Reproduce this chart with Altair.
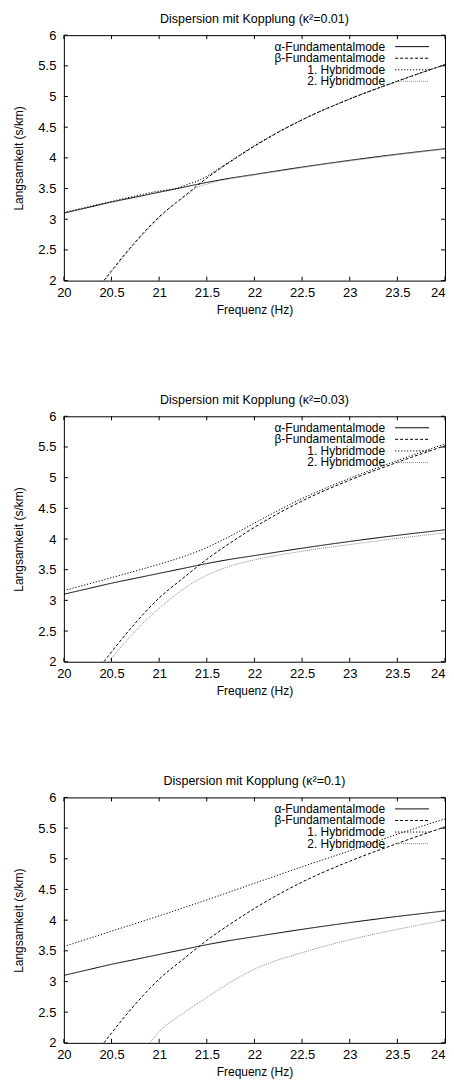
import altair as alt
import pandas as pd

FONT = "Liberation Sans"

# ---- data ----
MODES = ["α-Fundamentalmode", "β-Fundamentalmode", "1. Hybridmode", "2. Hybridmode"]
COLORS = ["#000000", "#000000", "#000000", "#8c8c8c"]
DASHES = [[1, 0], [3, 2], [1.2, 1.8], [1, 1]]

TITLES = [
    "Dispersion mit Kopplung (κ²=0.01)",
    "Dispersion mit Kopplung (κ²=0.03)",
    "Dispersion mit Kopplung (κ²=0.1)",
]

FREQ_ALPHA = [20.0, 20.25, 20.5, 20.75, 21.0, 21.25, 21.5, 21.75, 22.0, 22.5, 23.0, 23.5, 24.0]
SLOW_ALPHA = [3.10, 3.19, 3.28, 3.36, 3.44, 3.52, 3.60, 3.67, 3.73, 3.85, 3.96, 4.06, 4.15]

FREQ_BETA = [20.42, 20.5, 20.75, 21.0, 21.25, 21.5, 21.75, 22.0, 22.5, 23.0, 23.5, 24.0]
SLOW_BETA = [2.00, 2.16, 2.63, 3.04, 3.36, 3.67, 3.94, 4.19, 4.62, 4.96, 5.25, 5.52]

# kappa^2 = 0.01
FREQ_H1_A = [20.0, 20.5, 21.0, 21.2, 21.3, 21.4, 21.5, 21.6, 21.75, 22.0, 22.5, 23.0, 23.5, 24.0]
SLOW_H1_A = [3.11, 3.29, 3.46, 3.51, 3.57, 3.62, 3.70, 3.80, 3.95, 4.20, 4.62, 4.96, 5.25, 5.52]
FREQ_H2_A = [20.43, 20.5, 20.75, 21.0, 21.2, 21.3, 21.4, 21.5, 21.6, 21.75, 22.0, 22.5, 23.0, 23.5, 24.0]
SLOW_H2_A = [2.00, 2.14, 2.61, 3.02, 3.29, 3.40, 3.52, 3.57, 3.615, 3.66, 3.72, 3.84, 3.95, 4.05, 4.14]

# kappa^2 = 0.03
FREQ_H1_B = [20.0, 20.5, 21.0, 21.25, 21.5, 21.75, 22.0, 22.5, 23.0, 23.5, 24.0]
SLOW_H1_B = [3.16, 3.37, 3.59, 3.71, 3.86, 4.05, 4.26, 4.66, 4.99, 5.28, 5.55]
FREQ_H2_B = [20.47, 20.75, 21.0, 21.25, 21.5, 21.75, 22.0, 22.5, 23.0, 23.5, 24.0]
SLOW_H2_B = [2.00, 2.50, 2.87, 3.18, 3.41, 3.56, 3.66, 3.80, 3.91, 4.01, 4.10]

# kappa^2 = 0.1
FREQ_H1_C = [20.0, 20.5, 21.0, 21.5, 22.0, 22.5, 23.0, 23.5, 24.0]
SLOW_H1_C = [3.57, 3.82, 4.07, 4.33, 4.60, 4.87, 5.13, 5.40, 5.65]
FREQ_H2_C = [20.9, 21.0, 21.25, 21.5, 21.75, 22.0, 22.5, 23.0, 23.5, 24.0]
SLOW_H2_C = [2.00, 2.18, 2.48, 2.74, 2.99, 3.20, 3.47, 3.68, 3.85, 4.00]

HYBRIDS = [
    (FREQ_H1_A, SLOW_H1_A, FREQ_H2_A, SLOW_H2_A),
    (FREQ_H1_B, SLOW_H1_B, FREQ_H2_B, SLOW_H2_B),
    (FREQ_H1_C, SLOW_H1_C, FREQ_H2_C, SLOW_H2_C),
]

X_TICKS = [20, 20.5, 21, 21.5, 22, 22.5, 23, 23.5, 24]
Y_TICKS = [2, 2.5, 3, 3.5, 4, 4.5, 5, 5.5, 6]

W, H = 382, 246
TICK = 4
X_TITLE = "Frequenz (Hz)"
Y_TITLE = "Langsamkeit (s/km)"

xscale = alt.Scale(domain=[20, 24], nice=False, zero=False)
yscale = alt.Scale(domain=[2, 6], nice=False, zero=False)
x_axis = alt.Axis(values=X_TICKS, format="~g", labelFlush=False, labelOverlap=False,
                  labelAlign=alt.condition("datum.value == 24", alt.value("right"), alt.value("center")),
                  labelPadding=6, titlePadding=5)
y_axis = alt.Axis(values=Y_TICKS, format="~g", labelOverlap=False, labelPadding=8, titlePadding=12)


def xq():
    return alt.X("freq:Q", scale=xscale, title=X_TITLE, axis=x_axis)


def yq():
    return alt.Y("slow:Q", scale=yscale, title=Y_TITLE, axis=y_axis)


def series_df(f, s, mode, order):
    return pd.DataFrame({"freq": f, "slow": s, "mode": mode, "ord": order})


def panel(idx):
    h1f, h1s, h2f, h2s = HYBRIDS[idx]
    df = pd.concat([
        series_df(FREQ_ALPHA, SLOW_ALPHA, MODES[0], 0),
        series_df(FREQ_BETA, SLOW_BETA, MODES[1], 1),
        series_df(h1f, h1s, MODES[2], 2),
        series_df(h2f, h2s, MODES[3], 3),
    ], ignore_index=True)

    lines = alt.Chart(df).mark_line(strokeWidth=1, clip=True, interpolate="monotone").encode(
        x=xq(),
        y=yq(),
        color=alt.Color("mode:N", scale=alt.Scale(domain=MODES, range=COLORS), legend=None),
        strokeDash=alt.StrokeDash("mode:N", scale=alt.Scale(domain=MODES, range=DASHES), legend=None),
        order="ord:Q",
    )

    xt = pd.DataFrame({"freq": X_TICKS})
    yt = pd.DataFrame({"slow": Y_TICKS})
    ticks = [
        alt.Chart(xt).mark_rule(color="black", strokeWidth=1).encode(x=xq(), y=alt.value(H), y2=alt.value(H - TICK)),
        alt.Chart(xt).mark_rule(color="black", strokeWidth=1).encode(x=xq(), y=alt.value(0), y2=alt.value(TICK)),
        alt.Chart(yt).mark_rule(color="black", strokeWidth=1).encode(y=yq(), x=alt.value(0), x2=alt.value(TICK)),
        alt.Chart(yt).mark_rule(color="black", strokeWidth=1).encode(y=yq(), x=alt.value(W - TICK), x2=alt.value(W)),
    ]

    legend = []
    for i, m in enumerate(MODES):
        ly = 11.5 + 11.6 * i
        ldf = pd.DataFrame({"mode": [m]})
        legend.append(alt.Chart(ldf).mark_text(align="right", baseline="middle", fontSize=12,
                                               font=FONT, color="black").encode(
            text="mode:N", x=alt.value(W - 60), y=alt.value(ly)))
        legend.append(alt.Chart(ldf).mark_rule(strokeWidth=1, color=COLORS[i], strokeDash=DASHES[i]).encode(
            x=alt.value(W - 50), x2=alt.value(W - 16), y=alt.value(ly)))

    return alt.layer(lines, *ticks, *legend).properties(
        width=W, height=H,
        title=alt.TitleParams(text=TITLES[idx], anchor="middle", frame="group", fontSize=12.5,
                              fontWeight="normal", font=FONT, color="black", offset=4),
    )


chart = alt.vconcat(panel(0), panel(1), panel(2), spacing=77).properties(
    padding={"left": 4, "right": 0, "top": 3, "bottom": 0},
).configure_view(
    stroke="black", strokeWidth=1
).configure_axis(
    domain=False, ticks=False, tickSize=0, grid=False,
    labelFont=FONT, labelFontSize=13, labelColor="black",
    titleFont=FONT, titleFontSize=12, titleFontWeight="normal", titleColor="black",
)

chart.save("out.html", embed_options={"renderer": "svg", "actions": False})
